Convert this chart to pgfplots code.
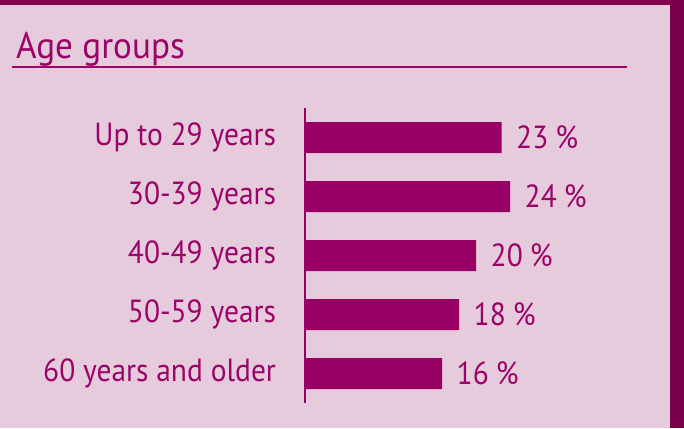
\documentclass[border=0pt]{standalone}
\usepackage{fontspec}
\setmainfont[FakeStretch=0.92]{PT Sans}
\newfontfamily\titlefont[FakeStretch=0.95]{PT Sans}
\usepackage{pgfplots}
\pgfplotsset{compat=1.18}

\definecolor{bgpink}{HTML}{E6CBDC}
\definecolor{frame}{HTML}{82004E}
\definecolor{barcol}{HTML}{990066}
\definecolor{txtcol}{HTML}{9A0468}

\begin{document}
\begin{tikzpicture}[x=1bp,y=1bp]
  % panel background and frame
  \useasboundingbox (0,0) rectangle (684,428);
  \fill[bgpink] (0,0) rectangle (684,428);
  \fill[frame] (0,423) rectangle (684,428);
  \fill[frame!92!black] (670,0) rectangle (684,428);

  % title with rule
  \node[anchor=base west, inner sep=0pt, text=txtcol,
        font=\titlefont\fontsize{37bp}{42bp}\selectfont] at (16,370) {Age groups};
  \draw[txtcol, line width=2bp] (12,361) -- (627,361);

  \begin{axis}[
      at={(304.5bp,25bp)}, anchor=south west,
      scale only axis,
      width=255bp, height=295bp,
      xbar, bar width=31bp,
      xmin=-0.2, xmax=29.8,
      ymin=-0.5, ymax=4.5,
      y dir=reverse,
      axis x line=none,
      axis y line*=left,
      axis line style={draw=barcol, line width=2bp, -},
      ytick={0,1,2,3,4},
      yticklabels={Up to 29 years, 30-39 years, 40-49 years, 50-59 years, 60 years and older},
      major tick length=0pt,
      yticklabel style={text=txtcol, font=\fontsize{32bp}{37bp}\selectfont, xshift=-25bp},
      /pgf/number format/assume math mode=true,
      nodes near coords={\pgfmathprintnumber{\pgfplotspointmeta}\hspace{7bp}\%},
      nodes near coords style={text=txtcol, font=\fontsize{32bp}{37bp}\selectfont, anchor=west, xshift=11bp},
      clip=false,
    ]
    \addplot[fill=barcol, draw=none]
      coordinates {(23,0) (24,1) (20,2) (18,3) (16,4)};
  \end{axis}
\end{tikzpicture}
\end{document}
